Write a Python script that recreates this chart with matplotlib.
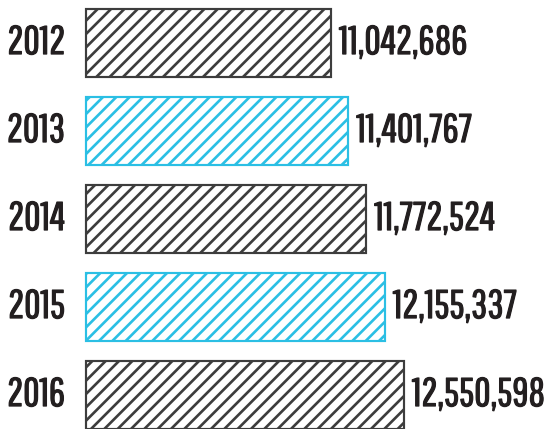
import matplotlib
matplotlib.use("Agg")
import matplotlib.pyplot as plt
import matplotlib.patheffects as pe

years = ["2012", "2013", "2014", "2015", "2016"]
values = [11042686, 11401767, 11772524, 12155337, 12550598]
colors = ["#3d3d3d", "#2bbfe4", "#3d3d3d", "#2bbfe4", "#3d3d3d"]

plt.rcParams['font.family'] = ['Pathway Gothic One', 'DejaVu Sans']
plt.rcParams['hatch.linewidth'] = 1.6

dpi = 120
fig = plt.figure(figsize=(556 / dpi, 429 / dpi), dpi=dpi)
ax = fig.add_axes([0, 0, 1, 1])

# axis does not start at zero: 86 px ~ 5.98M, 48.4 px per million
px = 1e6 / 48.4
x_left = 5.98e6
ax.set_xlim(x_left - 86 * px, x_left + 470 * px)
ax.set_ylim(4.386, -0.489)

bold = [pe.withStroke(linewidth=0.7, foreground="#231f20")]

for i, (yr, val, c) in enumerate(zip(years, values, colors)):
    ax.barh(i, val - x_left, left=x_left, height=0.78, color="white",
            edgecolor=c, hatch="///", linewidth=1.3)
    ax.text(x_left - 21 * px, i, yr, ha="right", va="center",
            fontsize=24, color="#231f20", path_effects=bold)
    ax.text(val + 8 * px, i, f"{val:,}", ha="left", va="center",
            fontsize=24, color="#231f20", path_effects=bold)

ax.axis("off")
fig.savefig("out.png", dpi=dpi)
